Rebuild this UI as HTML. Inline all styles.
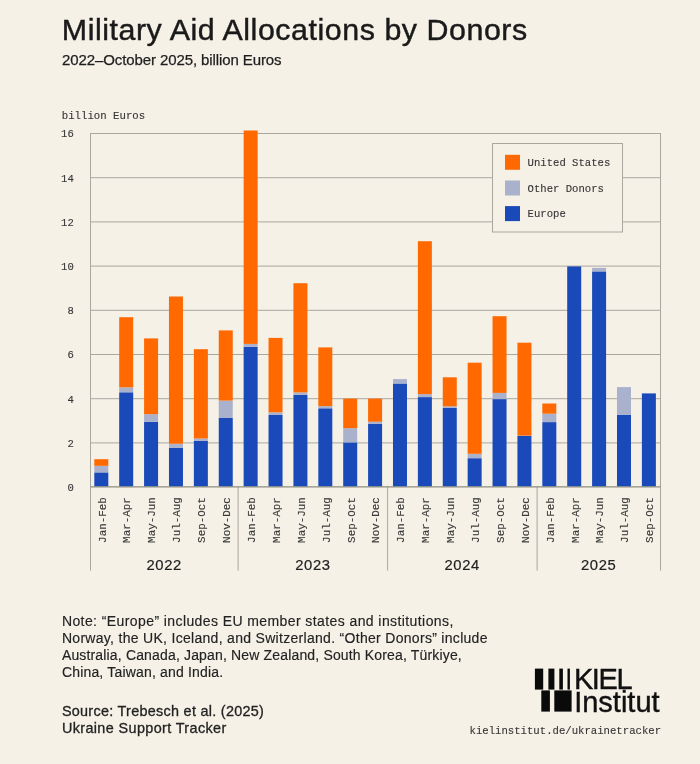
<!DOCTYPE html>
<html><head><meta charset="utf-8"><style>
html,body{margin:0;padding:0;}
body{width:700px;height:764px;background:#f5f1e7;overflow:hidden;}
svg{display:block;will-change:transform;}
</style></head><body>
<svg width="700" height="764" viewBox="0 0 700 764">
<line x1="90.5" y1="133.50" x2="660.5" y2="133.50" stroke="#aaa7a0"/>
<line x1="90.5" y1="177.70" x2="660.5" y2="177.70" stroke="#aaa7a0"/>
<line x1="90.5" y1="221.90" x2="660.5" y2="221.90" stroke="#aaa7a0"/>
<line x1="90.5" y1="266.10" x2="660.5" y2="266.10" stroke="#aaa7a0"/>
<line x1="90.5" y1="310.30" x2="660.5" y2="310.30" stroke="#aaa7a0"/>
<line x1="90.5" y1="354.50" x2="660.5" y2="354.50" stroke="#aaa7a0"/>
<line x1="90.5" y1="398.70" x2="660.5" y2="398.70" stroke="#aaa7a0"/>
<line x1="90.5" y1="442.90" x2="660.5" y2="442.90" stroke="#aaa7a0"/>
<rect x="94.30" y="472.40" width="14.0" height="14.20" fill="#1a49ba"/>
<rect x="94.30" y="465.80" width="14.0" height="6.60" fill="#aab1cd"/>
<rect x="94.30" y="459.20" width="14.0" height="6.60" fill="#ff6900"/>
<rect x="119.19" y="392.30" width="14.0" height="94.30" fill="#1a49ba"/>
<rect x="119.19" y="387.40" width="14.0" height="4.90" fill="#aab1cd"/>
<rect x="119.19" y="317.20" width="14.0" height="70.20" fill="#ff6900"/>
<rect x="144.08" y="421.80" width="14.0" height="64.80" fill="#1a49ba"/>
<rect x="144.08" y="414.20" width="14.0" height="7.60" fill="#aab1cd"/>
<rect x="144.08" y="338.40" width="14.0" height="75.80" fill="#ff6900"/>
<rect x="168.97" y="447.70" width="14.0" height="38.90" fill="#1a49ba"/>
<rect x="168.97" y="443.70" width="14.0" height="4.00" fill="#aab1cd"/>
<rect x="168.97" y="296.50" width="14.0" height="147.20" fill="#ff6900"/>
<rect x="193.86" y="440.90" width="14.0" height="45.70" fill="#1a49ba"/>
<rect x="193.86" y="438.50" width="14.0" height="2.40" fill="#aab1cd"/>
<rect x="193.86" y="349.20" width="14.0" height="89.30" fill="#ff6900"/>
<rect x="218.75" y="418.00" width="14.0" height="68.60" fill="#1a49ba"/>
<rect x="218.75" y="400.60" width="14.0" height="17.40" fill="#aab1cd"/>
<rect x="218.75" y="330.40" width="14.0" height="70.20" fill="#ff6900"/>
<rect x="243.64" y="346.90" width="14.0" height="139.70" fill="#1a49ba"/>
<rect x="243.64" y="343.90" width="14.0" height="3.00" fill="#aab1cd"/>
<rect x="243.64" y="130.50" width="14.0" height="213.40" fill="#ff6900"/>
<rect x="268.53" y="415.00" width="14.0" height="71.60" fill="#1a49ba"/>
<rect x="268.53" y="412.30" width="14.0" height="2.70" fill="#aab1cd"/>
<rect x="268.53" y="337.90" width="14.0" height="74.40" fill="#ff6900"/>
<rect x="293.42" y="394.90" width="14.0" height="91.70" fill="#1a49ba"/>
<rect x="293.42" y="392.40" width="14.0" height="2.50" fill="#aab1cd"/>
<rect x="293.42" y="283.20" width="14.0" height="109.20" fill="#ff6900"/>
<rect x="318.31" y="408.30" width="14.0" height="78.30" fill="#1a49ba"/>
<rect x="318.31" y="406.10" width="14.0" height="2.20" fill="#aab1cd"/>
<rect x="318.31" y="347.40" width="14.0" height="58.70" fill="#ff6900"/>
<rect x="343.20" y="442.40" width="14.0" height="44.20" fill="#1a49ba"/>
<rect x="343.20" y="428.20" width="14.0" height="14.20" fill="#aab1cd"/>
<rect x="343.20" y="398.60" width="14.0" height="29.60" fill="#ff6900"/>
<rect x="368.09" y="423.70" width="14.0" height="62.90" fill="#1a49ba"/>
<rect x="368.09" y="421.70" width="14.0" height="2.00" fill="#aab1cd"/>
<rect x="368.09" y="398.60" width="14.0" height="23.10" fill="#ff6900"/>
<rect x="392.98" y="383.50" width="14.0" height="103.10" fill="#1a49ba"/>
<rect x="392.98" y="379.10" width="14.0" height="4.40" fill="#aab1cd"/>
<rect x="417.87" y="397.10" width="14.0" height="89.50" fill="#1a49ba"/>
<rect x="417.87" y="394.10" width="14.0" height="3.00" fill="#aab1cd"/>
<rect x="417.87" y="241.20" width="14.0" height="152.90" fill="#ff6900"/>
<rect x="442.76" y="407.90" width="14.0" height="78.70" fill="#1a49ba"/>
<rect x="442.76" y="406.30" width="14.0" height="1.60" fill="#aab1cd"/>
<rect x="442.76" y="377.30" width="14.0" height="29.00" fill="#ff6900"/>
<rect x="467.65" y="458.20" width="14.0" height="28.40" fill="#1a49ba"/>
<rect x="467.65" y="453.80" width="14.0" height="4.40" fill="#aab1cd"/>
<rect x="467.65" y="362.70" width="14.0" height="91.10" fill="#ff6900"/>
<rect x="492.54" y="399.10" width="14.0" height="87.50" fill="#1a49ba"/>
<rect x="492.54" y="392.90" width="14.0" height="6.20" fill="#aab1cd"/>
<rect x="492.54" y="316.20" width="14.0" height="76.70" fill="#ff6900"/>
<rect x="517.43" y="435.80" width="14.0" height="50.80" fill="#1a49ba"/>
<rect x="517.43" y="435.60" width="14.0" height="0.20" fill="#aab1cd"/>
<rect x="517.43" y="342.70" width="14.0" height="92.90" fill="#ff6900"/>
<rect x="542.32" y="422.10" width="14.0" height="64.50" fill="#1a49ba"/>
<rect x="542.32" y="413.70" width="14.0" height="8.40" fill="#aab1cd"/>
<rect x="542.32" y="403.50" width="14.0" height="10.20" fill="#ff6900"/>
<rect x="567.21" y="266.40" width="14.0" height="220.20" fill="#1a49ba"/>
<rect x="592.10" y="271.40" width="14.0" height="215.20" fill="#1a49ba"/>
<rect x="592.10" y="267.90" width="14.0" height="3.50" fill="#aab1cd"/>
<rect x="616.99" y="414.70" width="14.0" height="71.90" fill="#1a49ba"/>
<rect x="616.99" y="387.10" width="14.0" height="27.60" fill="#aab1cd"/>
<rect x="641.88" y="393.40" width="14.0" height="93.20" fill="#1a49ba"/>
<line x1="90.5" y1="133.0" x2="90.5" y2="570.6" stroke="#aaa7a0"/>
<line x1="660.5" y1="133.0" x2="660.5" y2="570.6" stroke="#aaa7a0"/>
<line x1="238.1" y1="486.5" x2="238.1" y2="570.6" stroke="#aaa7a0"/>
<line x1="387.6" y1="486.5" x2="387.6" y2="570.6" stroke="#aaa7a0"/>
<line x1="537.1" y1="486.5" x2="537.1" y2="570.6" stroke="#aaa7a0"/>
<line x1="90.5" y1="486.9" x2="660.5" y2="486.9" stroke="#8e8b80" stroke-width="1.4"/>
<rect x="492.5" y="143.5" width="130" height="88.5" fill="#f5f1e7" stroke="#aaa7a0"/>
<rect x="505" y="154.8" width="15" height="15" fill="#ff6900"/>
<rect x="505" y="180.5" width="15" height="15" fill="#aab1cd"/>
<rect x="505" y="206.1" width="15" height="15" fill="#1a49ba"/>
<text x="527.6" y="166.4" fill="#363636" style="font-family:'Liberation Mono',monospace;font-size:10.6px;letter-spacing:0px;stroke:#363636;stroke-width:0.12px;">United States</text>
<text x="527.6" y="192.1" fill="#363636" style="font-family:'Liberation Mono',monospace;font-size:10.6px;letter-spacing:0px;stroke:#363636;stroke-width:0.12px;">Other Donors</text>
<text x="527.6" y="217.4" fill="#363636" style="font-family:'Liberation Mono',monospace;font-size:10.6px;letter-spacing:0px;stroke:#363636;stroke-width:0.12px;">Europe</text>
<text x="73.8" y="137.40" text-anchor="end" fill="#363636" style="font-family:'Liberation Mono',monospace;font-size:10.6px;letter-spacing:0px;stroke:#363636;stroke-width:0.12px;">16</text>
<text x="73.8" y="181.60" text-anchor="end" fill="#363636" style="font-family:'Liberation Mono',monospace;font-size:10.6px;letter-spacing:0px;stroke:#363636;stroke-width:0.12px;">14</text>
<text x="73.8" y="225.80" text-anchor="end" fill="#363636" style="font-family:'Liberation Mono',monospace;font-size:10.6px;letter-spacing:0px;stroke:#363636;stroke-width:0.12px;">12</text>
<text x="73.8" y="270.00" text-anchor="end" fill="#363636" style="font-family:'Liberation Mono',monospace;font-size:10.6px;letter-spacing:0px;stroke:#363636;stroke-width:0.12px;">10</text>
<text x="73.8" y="314.20" text-anchor="end" fill="#363636" style="font-family:'Liberation Mono',monospace;font-size:10.6px;letter-spacing:0px;stroke:#363636;stroke-width:0.12px;">8</text>
<text x="73.8" y="358.40" text-anchor="end" fill="#363636" style="font-family:'Liberation Mono',monospace;font-size:10.6px;letter-spacing:0px;stroke:#363636;stroke-width:0.12px;">6</text>
<text x="73.8" y="402.60" text-anchor="end" fill="#363636" style="font-family:'Liberation Mono',monospace;font-size:10.6px;letter-spacing:0px;stroke:#363636;stroke-width:0.12px;">4</text>
<text x="73.8" y="446.80" text-anchor="end" fill="#363636" style="font-family:'Liberation Mono',monospace;font-size:10.6px;letter-spacing:0px;stroke:#363636;stroke-width:0.12px;">2</text>
<text x="73.8" y="491.00" text-anchor="end" fill="#363636" style="font-family:'Liberation Mono',monospace;font-size:10.6px;letter-spacing:0px;stroke:#363636;stroke-width:0.12px;">0</text>
<text transform="translate(105.60,542.9) rotate(-90)" fill="#3a3a3a" style="font-family:'Liberation Mono',monospace;font-size:10.9px;stroke:#3a3a3a;stroke-width:0.15px">Jan-Feb</text>
<text transform="translate(130.49,542.9) rotate(-90)" fill="#3a3a3a" style="font-family:'Liberation Mono',monospace;font-size:10.9px;stroke:#3a3a3a;stroke-width:0.15px">Mar-Apr</text>
<text transform="translate(155.38,542.9) rotate(-90)" fill="#3a3a3a" style="font-family:'Liberation Mono',monospace;font-size:10.9px;stroke:#3a3a3a;stroke-width:0.15px">May-Jun</text>
<text transform="translate(180.27,542.9) rotate(-90)" fill="#3a3a3a" style="font-family:'Liberation Mono',monospace;font-size:10.9px;stroke:#3a3a3a;stroke-width:0.15px">Jul-Aug</text>
<text transform="translate(205.16,542.9) rotate(-90)" fill="#3a3a3a" style="font-family:'Liberation Mono',monospace;font-size:10.9px;stroke:#3a3a3a;stroke-width:0.15px">Sep-Oct</text>
<text transform="translate(230.05,542.9) rotate(-90)" fill="#3a3a3a" style="font-family:'Liberation Mono',monospace;font-size:10.9px;stroke:#3a3a3a;stroke-width:0.15px">Nov-Dec</text>
<text transform="translate(254.94,542.9) rotate(-90)" fill="#3a3a3a" style="font-family:'Liberation Mono',monospace;font-size:10.9px;stroke:#3a3a3a;stroke-width:0.15px">Jan-Feb</text>
<text transform="translate(279.83,542.9) rotate(-90)" fill="#3a3a3a" style="font-family:'Liberation Mono',monospace;font-size:10.9px;stroke:#3a3a3a;stroke-width:0.15px">Mar-Apr</text>
<text transform="translate(304.72,542.9) rotate(-90)" fill="#3a3a3a" style="font-family:'Liberation Mono',monospace;font-size:10.9px;stroke:#3a3a3a;stroke-width:0.15px">May-Jun</text>
<text transform="translate(329.61,542.9) rotate(-90)" fill="#3a3a3a" style="font-family:'Liberation Mono',monospace;font-size:10.9px;stroke:#3a3a3a;stroke-width:0.15px">Jul-Aug</text>
<text transform="translate(354.50,542.9) rotate(-90)" fill="#3a3a3a" style="font-family:'Liberation Mono',monospace;font-size:10.9px;stroke:#3a3a3a;stroke-width:0.15px">Sep-Oct</text>
<text transform="translate(379.39,542.9) rotate(-90)" fill="#3a3a3a" style="font-family:'Liberation Mono',monospace;font-size:10.9px;stroke:#3a3a3a;stroke-width:0.15px">Nov-Dec</text>
<text transform="translate(404.28,542.9) rotate(-90)" fill="#3a3a3a" style="font-family:'Liberation Mono',monospace;font-size:10.9px;stroke:#3a3a3a;stroke-width:0.15px">Jan-Feb</text>
<text transform="translate(429.17,542.9) rotate(-90)" fill="#3a3a3a" style="font-family:'Liberation Mono',monospace;font-size:10.9px;stroke:#3a3a3a;stroke-width:0.15px">Mar-Apr</text>
<text transform="translate(454.06,542.9) rotate(-90)" fill="#3a3a3a" style="font-family:'Liberation Mono',monospace;font-size:10.9px;stroke:#3a3a3a;stroke-width:0.15px">May-Jun</text>
<text transform="translate(478.95,542.9) rotate(-90)" fill="#3a3a3a" style="font-family:'Liberation Mono',monospace;font-size:10.9px;stroke:#3a3a3a;stroke-width:0.15px">Jul-Aug</text>
<text transform="translate(503.84,542.9) rotate(-90)" fill="#3a3a3a" style="font-family:'Liberation Mono',monospace;font-size:10.9px;stroke:#3a3a3a;stroke-width:0.15px">Sep-Oct</text>
<text transform="translate(528.73,542.9) rotate(-90)" fill="#3a3a3a" style="font-family:'Liberation Mono',monospace;font-size:10.9px;stroke:#3a3a3a;stroke-width:0.15px">Nov-Dec</text>
<text transform="translate(553.62,542.9) rotate(-90)" fill="#3a3a3a" style="font-family:'Liberation Mono',monospace;font-size:10.9px;stroke:#3a3a3a;stroke-width:0.15px">Jan-Feb</text>
<text transform="translate(578.51,542.9) rotate(-90)" fill="#3a3a3a" style="font-family:'Liberation Mono',monospace;font-size:10.9px;stroke:#3a3a3a;stroke-width:0.15px">Mar-Apr</text>
<text transform="translate(603.40,542.9) rotate(-90)" fill="#3a3a3a" style="font-family:'Liberation Mono',monospace;font-size:10.9px;stroke:#3a3a3a;stroke-width:0.15px">May-Jun</text>
<text transform="translate(628.29,542.9) rotate(-90)" fill="#3a3a3a" style="font-family:'Liberation Mono',monospace;font-size:10.9px;stroke:#3a3a3a;stroke-width:0.15px">Jul-Aug</text>
<text transform="translate(653.18,542.9) rotate(-90)" fill="#3a3a3a" style="font-family:'Liberation Mono',monospace;font-size:10.9px;stroke:#3a3a3a;stroke-width:0.15px">Sep-Oct</text>
<text x="164.2" y="570.3" text-anchor="middle" fill="#222222" style="font-family:'Liberation Sans',sans-serif;font-size:14.8px;letter-spacing:0.6px;stroke:#222222;stroke-width:0.2px;">2022</text>
<text x="312.9" y="570.3" text-anchor="middle" fill="#222222" style="font-family:'Liberation Sans',sans-serif;font-size:14.8px;letter-spacing:0.6px;stroke:#222222;stroke-width:0.2px;">2023</text>
<text x="462.2" y="570.3" text-anchor="middle" fill="#222222" style="font-family:'Liberation Sans',sans-serif;font-size:14.8px;letter-spacing:0.6px;stroke:#222222;stroke-width:0.2px;">2024</text>
<text x="598.7" y="570.3" text-anchor="middle" fill="#222222" style="font-family:'Liberation Sans',sans-serif;font-size:14.8px;letter-spacing:0.6px;stroke:#222222;stroke-width:0.2px;">2025</text>
<text x="61.8" y="39.5" fill="#1a1a1a" style="font-family:'Liberation Sans',sans-serif;font-size:30.4px;letter-spacing:0.54px;stroke:#1a1a1a;stroke-width:0.45px;">Military Aid Allocations by Donors</text>
<text x="62.0" y="64.5" fill="#1e1e1e" style="font-family:'Liberation Sans',sans-serif;font-size:15px;letter-spacing:-0.1px;stroke:#1e1e1e;stroke-width:0.25px;">2022&#8211;October 2025, billion Euros</text>
<text x="61.8" y="118.6" fill="#363636" style="font-family:'Liberation Mono',monospace;font-size:10.7px;letter-spacing:0px;stroke:#363636;stroke-width:0.12px;">billion Euros</text>
<text x="61.9" y="626.4" fill="#222222" style="font-family:'Liberation Sans',sans-serif;font-size:14px;letter-spacing:0.41px;stroke:#222222;stroke-width:0.15px;">Note: &#8220;Europe&#8221; includes EU member states and institutions,</text>
<text x="61.9" y="643.2" fill="#222222" style="font-family:'Liberation Sans',sans-serif;font-size:14px;letter-spacing:0.3px;stroke:#222222;stroke-width:0.15px;">Norway, the UK, Iceland, and Switzerland. &#8220;Other Donors&#8221; include</text>
<text x="61.9" y="660.1" fill="#222222" style="font-family:'Liberation Sans',sans-serif;font-size:14px;letter-spacing:0.16px;stroke:#222222;stroke-width:0.15px;">Australia, Canada, Japan, New Zealand, South Korea, T&#252;rkiye,</text>
<text x="61.9" y="677.0" fill="#222222" style="font-family:'Liberation Sans',sans-serif;font-size:14px;letter-spacing:0.18px;stroke:#222222;stroke-width:0.15px;">China, Taiwan, and India.</text>
<text x="61.9" y="716.3" fill="#222222" style="font-family:'Liberation Sans',sans-serif;font-size:14.4px;letter-spacing:0.29px;stroke:#222222;stroke-width:0.3px;">Source: Trebesch et al. (2025)</text>
<text x="61.9" y="733.3" fill="#222222" style="font-family:'Liberation Sans',sans-serif;font-size:14.4px;letter-spacing:0.38px;stroke:#222222;stroke-width:0.3px;">Ukraine Support Tracker</text>
<text x="469.5" y="733.6" fill="#363636" style="font-family:'Liberation Mono',monospace;font-size:10.65px;letter-spacing:0px;stroke:#363636;stroke-width:0.12px;">kielinstitut.de/ukrainetracker</text>
<g fill="#0a0a0a">
<rect x="534.9" y="668.6" width="8.3" height="21"/>
<rect x="548.4" y="668.6" width="6" height="21"/>
<rect x="559.3" y="668.6" width="3.6" height="21"/>
<rect x="567.5" y="668.6" width="2.4" height="21"/>
<rect x="541.3" y="690.4" width="8.6" height="21.2"/>
<rect x="554.3" y="690.4" width="17.3" height="21.2"/>
</g>
<text x="573.9" y="688.5" fill="#111" style="font-family:'Liberation Sans',sans-serif;font-size:29px;letter-spacing:-1.4px;stroke:#111;stroke-width:0.4px;">KIEL</text>
<text x="574.2" y="712.2" fill="#111" style="font-family:'Liberation Sans',sans-serif;font-size:29px;letter-spacing:0px;stroke:#111;stroke-width:0.4px;">Institut</text>
</svg>
</body></html>
